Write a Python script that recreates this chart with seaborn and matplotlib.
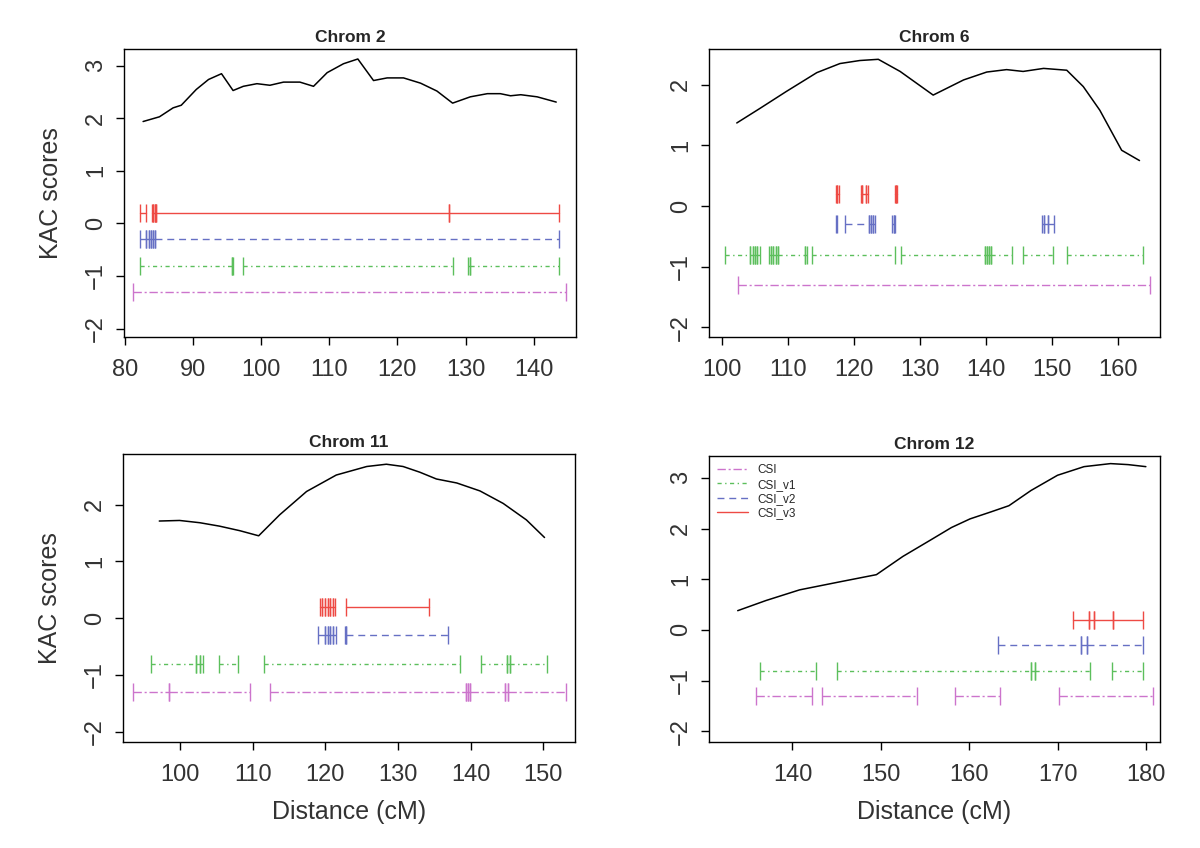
import numpy as np
import pandas as pd
import matplotlib
matplotlib.use("Agg")
import matplotlib.pyplot as plt
import seaborn as sns
from matplotlib.ticker import MultipleLocator
from matplotlib.lines import Line2D

# KAC score curves (position in cM, score)
chr2_pos = [82.7, 85.1, 87.1, 88.3, 90.5, 92.3, 94.2, 95.9, 97.4, 99.4, 101.3, 103.3, 105.7, 107.7,
            109.7, 112.1, 114.2, 116.5, 118.5, 120.9, 123.4, 125.8, 128.1, 130.7, 133.2, 135.1,
            136.6, 138.1, 140.5, 143.3]
chr2_kac = [1.94, 2.03, 2.20, 2.25, 2.55, 2.74, 2.85, 2.53, 2.61, 2.66, 2.63, 2.69, 2.69, 2.61,
            2.87, 3.04, 3.13, 2.72, 2.77, 2.77, 2.67, 2.52, 2.29, 2.41, 2.47, 2.47, 2.43, 2.45,
            2.41, 2.31]

chr6_pos = [102.3, 105.8, 109.8, 114.4, 117.9, 120.9, 123.7, 127.0, 132.0, 136.6, 140.1, 143.1,
            145.6, 148.7, 152.2, 154.7, 157.2, 160.5, 163.2]
chr6_kac = [1.37, 1.61, 1.89, 2.20, 2.35, 2.40, 2.42, 2.22, 1.83, 2.08, 2.21, 2.25, 2.22, 2.27,
            2.24, 1.97, 1.58, 0.92, 0.75]

chr11_pos = [97.1, 99.9, 102.7, 105.4, 108.2, 110.8, 113.7, 117.4, 121.5, 125.7, 128.4, 130.7,
             133.0, 135.3, 138.1, 141.3, 144.5, 147.7, 150.2]
chr11_kac = [1.71, 1.72, 1.68, 1.62, 1.54, 1.45, 1.82, 2.23, 2.52, 2.67, 2.71, 2.67, 2.57, 2.45,
             2.38, 2.24, 2.02, 1.73, 1.42]

chr12_pos = [133.8, 137.0, 140.8, 145.4, 149.5, 152.5, 155.6, 158.0, 160.1, 162.5, 164.5, 167.0,
             170.0, 173.0, 176.0, 178.0, 180.0]
chr12_kac = [0.38, 0.58, 0.79, 0.95, 1.09, 1.45, 1.77, 2.02, 2.19, 2.33, 2.45, 2.75, 3.05, 3.22,
             3.28, 3.26, 3.22]

# support intervals (start, end) for each method
chr2_csi = [(81.2, 144.7)]
chr2_v1 = [(82.3, 95.7), (95.7, 95.9), (97.3, 128.2), (130.4, 130.6), (130.6, 143.7)]
chr2_v2 = [(82.3, 83.2), (83.2, 83.5), (83.5, 83.8), (83.8, 84.1), (84.1, 84.4), (84.4, 143.7)]
chr2_v3 = [(82.3, 83.2), (84.0, 84.2), (84.2, 84.4), (84.4, 84.6), (84.6, 127.5), (127.5, 143.7)]

chr6_csi = [(102.5, 164.8)]
chr6_v1 = [(100.5, 104.3), (104.3, 104.7), (104.7, 105.0), (105.0, 105.4), (105.4, 105.8),
           (107.1, 107.4), (107.4, 107.8), (107.8, 108.2), (108.2, 108.6), (108.6, 112.6),
           (112.6, 112.9), (113.6, 126.2), (127.2, 139.8), (139.8, 140.2), (140.2, 140.5),
           (140.5, 140.8), (140.8, 143.9), (145.6, 150.1), (152.2, 163.8)]
chr6_v2 = [(117.3, 117.4), (118.7, 122.3), (122.3, 122.6), (122.6, 122.9), (122.9, 123.2),
           (125.7, 126.0), (126.0, 126.2), (148.4, 148.8), (148.8, 149.3), (149.3, 150.2)]
chr6_v3 = [(117.3, 117.5), (117.5, 117.7), (121.1, 121.2), (121.2, 121.9), (121.9, 122.1),
           (126.2, 126.4), (126.4, 126.5)]

chr11_csi = [(93.5, 98.5), (98.5, 109.6), (112.4, 139.4), (139.4, 139.7), (139.7, 139.9),
             (139.9, 144.7), (144.7, 145.2), (145.2, 153.1)]
chr11_v1 = [(96.0, 102.2), (102.2, 102.7), (102.7, 103.1), (105.3, 107.9), (111.5, 138.5),
            (141.4, 145.0), (145.0, 145.4), (145.4, 150.6)]
chr11_v2 = [(119.0, 119.9), (119.9, 120.3), (120.3, 120.7), (120.7, 121.0), (121.0, 121.5),
            (122.7, 122.9), (122.9, 136.9)]
chr11_v3 = [(119.2, 119.5), (119.5, 119.9), (119.9, 120.3), (120.3, 120.7), (120.7, 121.0),
            (121.0, 121.3), (122.9, 134.3)]

chr12_csi = [(135.9, 142.2), (143.3, 154.1), (158.4, 163.5), (170.2, 180.8)]
chr12_v1 = [(136.3, 142.7), (145.0, 167.0), (167.0, 167.4), (167.4, 173.7), (176.2, 179.7)]
chr12_v2 = [(163.3, 172.7), (172.7, 173.3), (173.3, 179.7)]
chr12_v3 = [(171.8, 173.6), (173.6, 174.1), (174.1, 176.3), (176.3, 179.7)]

methods = ["CSI", "CSI_v1", "CSI_v2", "CSI_v3"]
row_level = [-1.3, -0.8, -0.3, 0.2]

colors = {"CSI": "#cc74cc", "CSI_v1": "#5cbf5c", "CSI_v2": "#6670c4", "CSI_v3": "#ee4a44"}
styles = {"CSI": (0, (6, 2, 1.5, 2)), "CSI_v1": (0, (3, 2.5, 1, 2.5)),
          "CSI_v2": (0, (5, 3.5)), "CSI_v3": "-"}

panels = [
    ("Chrom 2", chr2_pos, chr2_kac, [chr2_csi, chr2_v1, chr2_v2, chr2_v3],
     (79.9, 146.2), (-2.16, 3.32), [124, 49, 576, 337]),
    ("Chrom 6", chr6_pos, chr6_kac, [chr6_csi, chr6_v1, chr6_v2, chr6_v3],
     (98.1, 166.3), (-2.16, 2.59), [709, 49, 1160, 337]),
    ("Chrom 11", chr11_pos, chr11_kac, [chr11_csi, chr11_v1, chr11_v2, chr11_v3],
     (92.1, 154.4), (-2.18, 2.89), [123, 454, 575, 742]),
    ("Chrom 12", chr12_pos, chr12_kac, [chr12_csi, chr12_v1, chr12_v2, chr12_v3],
     (130.55, 181.6), (-2.21, 3.43), [709, 456, 1160, 742]),
]

sns.set_theme(style="white")
plt.rcParams['font.family'] = ['Liberation Sans', 'DejaVu Sans']

W, H = 1200, 848
fig = plt.figure(figsize=(12, 8.48), dpi=100)

for i, (title, pos, kac, rows, xlim, ylim, box) in enumerate(panels):
    l, t, r, b = box
    ax = fig.add_axes([l / W, 1 - b / H, (r - l) / W, (b - t) / H])

    curve = pd.DataFrame({"pos": pos, "kac": kac})
    sns.lineplot(data=curve, x="pos", y="kac", color="black", lw=1.1, ax=ax, sort=False)

    for m, lev, ivals in zip(methods, row_level, rows):
        df = pd.DataFrame(ivals, columns=["start", "end"])
        for s, e in zip(df["start"], df["end"]):
            ax.plot([s, e], [lev, lev], color=colors[m], ls=styles[m], lw=1.0,
                    marker="|", ms=13.5, mew=1.0)

    ax.set_xlim(*xlim)
    ax.set_ylim(*ylim)
    ax.xaxis.set_major_locator(MultipleLocator(10))
    ax.yaxis.set_major_locator(MultipleLocator(1))
    ax.set_title(title, fontsize=12.5, fontweight="bold", pad=5)
    ax.set_xlabel("Distance (cM)" if i >= 2 else "", fontsize=18, color="#333333", labelpad=10)
    ax.set_ylabel("KAC scores" if i % 2 == 0 else "", fontsize=18, color="#333333", labelpad=16)
    ax.tick_params(axis="both", direction="out", length=6, width=1, colors="black",
                   labelcolor="#333333", labelsize=17, bottom=True, left=True)
    ax.tick_params(axis="x", pad=10)
    ax.tick_params(axis="y", labelrotation=90, pad=6)
    for lab in ax.get_yticklabels():
        lab.set_va("center")
    for sp in ax.spines.values():
        sp.set_color("black")
        sp.set_linewidth(1.0)

    if i == 3:
        handles = [Line2D([], [], color=colors[m], ls=styles[m], lw=1.0) for m in methods]
        ax.legend(handles, methods, loc="upper left", frameon=False, fontsize=8.5,
                  handlelength=2.6, labelspacing=0.2, borderaxespad=0.3)

fig.savefig("out.png", dpi=100)
